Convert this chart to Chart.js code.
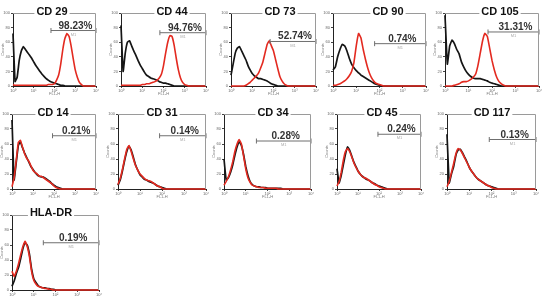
<!DOCTYPE html>
<html>
<head>
<meta charset="utf-8">
<script src="https://cdn.jsdelivr.net/npm/chart.js@4.4.1/dist/chart.umd.min.js"></script>
<style>
    body { margin: 0; background: #fff; width: 544px; height: 296px; position: relative; overflow: hidden; }
    canvas { position: absolute; }
</style>
</head>
<body>
<script>
// marker names, % positive inside the M1 gate, gate start (log10 FL1-H) and gate height (% of max count)
const markers = ['CD 29', 'CD 44', 'CD 73', 'CD 90', 'CD 105', 'CD 14', 'CD 31', 'CD 34', 'CD 45', 'CD 117', 'HLA-DR'];
const positive = ['98.23%', '94.76%', '52.74%', '0.74%', '31.31%', '0.21%', '0.14%', '0.28%', '0.24%', '0.13%', '0.19%'];
const gateStart = [1.83, 1.83, 1.84, 1.79, 1.83, 1.93, 1.89, 1.49, 1.95, 1.90, 1.44];
const gateLevel = [76, 73, 61, 58, 74, 71, 71, 64, 73, 66, 63];
const xTickLabels = ['10\u2070', '10\u00b9', '10\u00b2', '10\u00b3', '10\u2074'];

// histogram bins (log10 of FL1-H)
const binLogs = [0, 0.1, 0.2, 0.3, 0.4, 0.5, 0.6, 0.7, 0.8, 0.9,
    1, 1.1, 1.2, 1.3, 1.4, 1.5, 1.6, 1.7, 1.8, 1.9,
    2, 2.1, 2.2, 2.3, 2.4, 2.5, 2.6, 2.7, 2.8, 2.9,
    3, 3.1, 3.2, 3.3, 3.4, 3.5, 3.6, 3.7, 3.8, 3.9, 4];

// isotype control (black) and stained sample (red), counts as % of full scale
const cd29Iso   = [72,6,12,35,48, 54,50,46,42,38, 33,28,24,20,16, 13,10,8,6,5, 4,3,2,1,1, 0,0,0,0,0, 0,0,0,0,0, 0,0,0,0,0, 0];
const cd29Stain = [2,1,1,1,1, 1,1,1,1,1, 1,1,1,1,1, 1,1,2,2,2, 3,8,15,30,50, 65,72,68,55,38, 22,12,5,2,0, 0,0,0,0,0, 0];
const cd44Iso   = [83,20,45,60,62, 55,48,42,35,29, 24,19,15,13,11, 10,9,8,6,5, 4,4,3,2,1, 0,0,0,0,0, 0,0,0,0,0, 0,0,0,0,0, 0];
const cd44Stain = [1,1,1,1,1, 1,1,1,1,1, 2,2,3,3,4, 5,6,8,11,16, 28,45,60,69,68, 56,38,22,11,5, 2,1,0,0,0, 0,0,0,0,0, 0];
const cd73Iso   = [15,30,45,52,54, 48,42,36,28,22, 17,14,12,10,10, 9,8,7,5,3, 2,1,0,0,0, 0,0,0,0,0, 0,0,0,0,0, 0,0,0,0,0, 0];
const cd73Stain = [0,0,0,0,0, 0,0,1,3,5, 8,11,14,18,25, 33,45,57,62,55, 48,36,24,13,7, 3,1,0,0,0, 0,0,0,0,0, 0,0,0,0,0, 0];
const cd90Iso   = [22,26,40,50,57, 55,48,38,30,25, 21,18,15,13,11, 9,7,5,3,2, 1,0,0,0,0, 0,0,0,0,0, 0,0,0,0,0, 0,0,0,0,0, 0];
const cd90Stain = [1,1,2,3,5, 7,10,14,20,32, 55,72,66,50,36, 24,15,9,5,3, 2,1,0,0,0, 0,0,0,0,0, 0,0,0,0,0, 0,0,0,0,0, 0];
const cd105Iso   = [97,30,55,63,58, 50,44,33,26,20, 16,13,11,10,10, 10,9,8,7,5, 4,3,2,1,0, 0,0,0,0,0, 0,0,0,0,0, 0,0,0,0,0, 0];
const cd105Stain = [0,0,0,0,1, 2,3,5,6,6, 7,9,12,16,28, 45,62,72,68,52, 35,22,12,6,3, 1,0,0,0,0, 0,0,0,0,0, 0,0,0,0,0, 0];
const cd14Iso   = [92,12,35,58,63, 55,48,42,36,30, 26,22,19,17,16, 16,14,12,10,7, 5,3,2,1,0, 0,0,0,0,0, 0,0,0,0,0, 0,0,0,0,0, 0];
const cd14Stain = [3,15,38,62,65, 56,47,41,37,31, 25,22,20,17,17, 15,13,11,9,7, 4,2,1,0,0, 0,0,0,0,0, 0,0,0,0,0, 0,0,0,0,0, 0];
const cd31Iso   = [5,12,24,38,50, 57,52,42,32,25, 19,16,13,12,10, 9,8,6,4,3, 2,1,0,0,0, 0,0,0,0,0, 0,0,0,0,0, 0,0,0,0,0, 0];
const cd31Stain = [6,14,26,40,53, 58,50,40,31,25, 20,17,14,12,11, 10,8,6,4,3, 1,0,0,0,0, 0,0,0,0,0, 0,0,0,0,0, 0,0,0,0,0, 0];
const cd34Iso   = [40,12,15,22,32, 45,56,63,58,46, 30,18,10,6,4, 3,3,2,2,2, 1,1,1,1,1, 1,1,0,0,0, 0,0,0,0,0, 0,0,0,0,0, 0];
const cd34Stain = [5,10,16,25,36, 50,60,66,60,44, 27,15,9,5,4, 3,2,2,2,1, 1,1,1,1,1, 0,0,0,0,0, 0,0,0,0,0, 0,0,0,0,0, 0];
const cd45Iso   = [27,8,18,32,46, 56,52,44,36,30, 24,20,17,15,13, 12,10,8,7,5, 4,3,2,1,0, 0,0,0,0,0, 0,0,0,0,0, 0,0,0,0,0, 0];
const cd45Stain = [4,10,22,38,50, 54,50,43,35,29, 24,20,17,15,14, 12,10,8,6,5, 3,2,1,0,0, 0,0,0,0,0, 0,0,0,0,0, 0,0,0,0,0, 0];
const cd117Iso   = [73,8,20,30,45, 52,53,48,42,36, 29,24,20,16,13, 11,9,7,5,4, 3,2,1,0,0, 0,0,0,0,0, 0,0,0,0,0, 0,0,0,0,0, 0];
const cd117Stain = [3,10,22,34,47, 54,52,47,41,35, 29,24,20,16,13, 11,9,7,5,4, 2,1,0,0,0, 0,0,0,0,0, 0,0,0,0,0, 0,0,0,0,0, 0];
const hlaIso   = [5,12,22,30,42, 55,63,60,48,28, 15,10,6,4,3, 3,2,2,1,1, 0,0,0,0,0, 0,0,0,0,0, 0,0,0,0,0, 0,0,0,0,0, 0];
const hlaStain = [25,18,25,35,47, 58,65,58,45,25, 13,8,5,4,3, 2,2,1,1,0, 0,0,0,0,0, 0,0,0,0,0, 0,0,0,0,0, 0,0,0,0,0, 0];

const isotype = [cd29Iso, cd44Iso, cd73Iso, cd90Iso, cd105Iso, cd14Iso, cd31Iso, cd34Iso, cd45Iso, cd117Iso, hlaIso];
const stained = [cd29Stain, cd44Stain, cd73Stain, cd90Stain, cd105Stain, cd14Stain, cd31Stain, cd34Stain, cd45Stain, cd117Stain, hlaStain];

// page layout: plot area [left, top, right, bottom] and title centre [x, y]
const plotBoxes = [
    [13, 13, 97, 86], [121, 13, 207, 86], [231, 13, 317, 86], [333, 13, 427, 86], [445, 13, 540, 86],
    [12, 114, 97, 189], [118, 114, 207, 189], [224, 114, 312, 189], [337, 114, 422, 189], [447, 114, 537, 189],
    [12, 215, 100, 290]
];
const titleSpots = [
    [52, 11], [172, 11], [280, 11], [388, 11], [500, 11],
    [53, 112], [162, 112], [273, 112], [382, 112], [492, 112],
    [51, 212]
];

const FONT = '"Liberation Sans", Arial, sans-serif';
const PAD_L = 12, PAD_T = 12, PAD_R = 4, PAD_B = 10;

const panelDecor = {
    id: 'panelDecor',
    afterDraw(chart, args, opts) {
        const { ctx, chartArea: a, scales: { x, y } } = chart;
        ctx.save();
        // thin grey frame round the plot
        ctx.strokeStyle = '#9a9a9a';
        ctx.lineWidth = 1;
        ctx.beginPath();
        ctx.moveTo(a.left, a.top + 0.5);
        ctx.lineTo(a.right - 0.5, a.top + 0.5);
        ctx.lineTo(a.right - 0.5, a.bottom);
        ctx.stroke();

        // gate label
        const x0 = x.getPixelForValue(opts.gateStart);
        const x1 = x.getPixelForValue(4);
        const gy = y.getPixelForValue(opts.gateLevel);
        ctx.fillStyle = '#333';
        ctx.font = 'bold 10px ' + FONT;
        ctx.textAlign = 'center';
        ctx.textBaseline = 'alphabetic';
        ctx.fillText(opts.pct, (x0 + x1) / 2 + 2, gy - 2);
        ctx.fillStyle = '#aaa';
        ctx.font = '4px ' + FONT;
        ctx.textBaseline = 'top';
        ctx.fillText('M1', (x0 + x1) / 2, gy + 2);

        // axis titles
        ctx.fillStyle = '#777';
        ctx.fillText('FL1-H', (a.left + a.right) / 2, a.bottom + 6);
        ctx.translate(a.left - 10, (a.top + a.bottom) / 2);
        ctx.rotate(-Math.PI / 2);
        ctx.textBaseline = 'middle';
        ctx.fillText('Counts', 0, 0);
        ctx.setTransform(1, 0, 0, 1, 0, 0);

        // panel title sitting on the frame
        ctx.font = 'bold 11px ' + FONT;
        const w = ctx.measureText(opts.title).width;
        ctx.fillStyle = '#fff';
        ctx.fillRect(opts.tx - w / 2 - 2, opts.ty - 6, w + 4, 12);
        ctx.fillStyle = '#111';
        ctx.textBaseline = 'middle';
        ctx.fillText(opts.title, opts.tx, opts.ty + 0.5);
        ctx.restore();
    }
};

const toPoints = counts => counts.map((c, i) => ({ x: binLogs[i], y: c }));

markers.forEach((name, i) => {
    const [l, t, r, b] = plotBoxes[i];
    const canvas = document.createElement('canvas');
    const cw = r - l + PAD_L + PAD_R;
    const ch = b - t + PAD_T + PAD_B;
    canvas.width = cw;
    canvas.height = ch;
    canvas.style.left = (l - PAD_L) + 'px';
    canvas.style.top = (t - PAD_T) + 'px';
    canvas.style.width = cw + 'px';
    canvas.style.height = ch + 'px';
    document.body.appendChild(canvas);

    new Chart(canvas, {
        type: 'line',
        data: {
            datasets: [
                {
                    data: toPoints(isotype[i]),
                    borderColor: '#151515',
                    borderWidth: 1.7,
                    pointRadius: 0,
                    tension: 0.1,
                    clip: { left: 2, top: 0, right: 0, bottom: 1 },
                    order: 2
                },
                {
                    data: toPoints(stained[i]),
                    borderColor: '#e32a20',
                    borderWidth: 1.6,
                    pointRadius: 0,
                    tension: 0.1,
                    clip: { left: 2, top: 0, right: 0, bottom: 1 },
                    order: 1
                },
                {
                    data: [{ x: gateStart[i], y: gateLevel[i] }, { x: 4, y: gateLevel[i] }],
                    borderColor: '#6f6f6f',
                    borderWidth: 1,
                    pointStyle: 'line',
                    rotation: 90,
                    pointRadius: 2.5,
                    pointBorderColor: '#6f6f6f',
                    pointBorderWidth: 1,
                    clip: 4,
                    order: 0
                }
            ]
        },
        options: {
            responsive: false,
            animation: false,
            devicePixelRatio: 1,
            layout: { padding: { left: 0, top: PAD_T, right: PAD_R, bottom: 0 } },
            plugins: {
                legend: { display: false },
                tooltip: { enabled: false },
                panelDecor: {
                    title: name,
                    pct: positive[i],
                    gateStart: gateStart[i],
                    gateLevel: gateLevel[i],
                    tx: titleSpots[i][0] - (l - PAD_L),
                    ty: titleSpots[i][1] - (t - PAD_T)
                }
            },
            scales: {
                x: {
                    type: 'linear',
                    min: 0,
                    max: 4,
                    afterFit(scale) { scale.height = PAD_B; },
                    border: { color: '#222', width: 1 },
                    grid: { drawOnChartArea: false, tickLength: 2, color: '#444' },
                    ticks: {
                        stepSize: 1,
                        padding: 0,
                        maxRotation: 0,
                        color: '#666',
                        font: { size: 4, family: FONT },
                        callback: v => xTickLabels[v]
                    }
                },
                y: {
                    min: 0,
                    max: 100,
                    afterFit(scale) { scale.width = PAD_L; },
                    border: { color: '#222', width: 1 },
                    grid: { drawOnChartArea: false, tickLength: 2, color: '#444' },
                    ticks: {
                        stepSize: 20,
                        padding: 1,
                        color: '#666',
                        font: { size: 4, family: FONT }
                    }
                }
            }
        },
        plugins: [panelDecor]
    });
});
</script>
</body>
</html>
